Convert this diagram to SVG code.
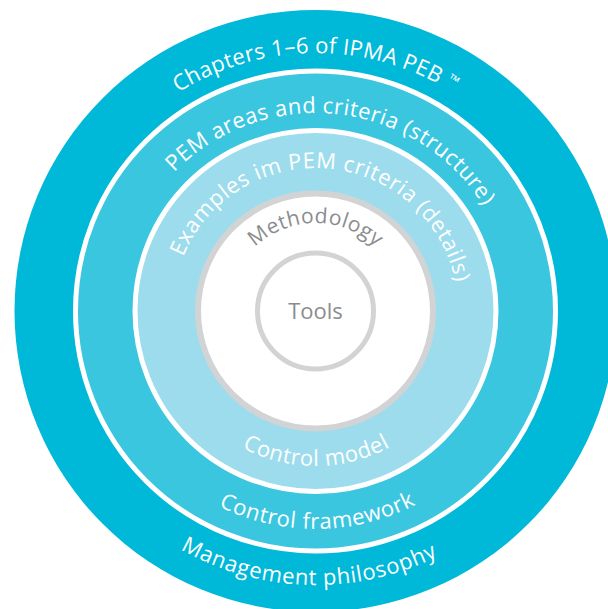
<svg xmlns="http://www.w3.org/2000/svg" xmlns:xlink="http://www.w3.org/1999/xlink" width="608" height="609" viewBox="0 0 608 609">
<style>
.lbl{font-family:"Open Sans","Noto Sans","Liberation Sans",sans-serif;font-size:22px;fill:#ffffff;text-anchor:middle}
.gry{font-family:"Open Sans","Noto Sans","Liberation Sans",sans-serif;fill:#8b8c8e;text-anchor:middle}
</style>
<defs>
<path id="pTop258" d="M57.5,311 A258,258 0 0 1 573.5,311"/>
<path id="pTop198" d="M117.5,311 A198,198 0 0 1 513.5,311"/>
<path id="pTop143" d="M172.5,311 A143,143 0 0 1 458.5,311"/>
<path id="pTop88" d="M227.5,311 A88,88 0 0 1 403.5,311"/>
<path id="pBot155" d="M160.5,311 A155,155 0 0 0 470.5,311"/>
<path id="pBot218" d="M97.5,311 A218,218 0 0 0 533.5,311"/>
<path id="pBot274" d="M41.5,311 A274,274 0 0 0 589.5,311"/>
</defs>
<rect width="608" height="609" fill="#ffffff"/>
<g id="management-philosophy">
<circle cx="315.5" cy="311" r="301" fill="#00b8d8"/>
<text class="lbl" letter-spacing="0.3"><textPath xlink:href="#pTop258" href="#pTop258" startOffset="50%">Chapters 1–6 of IPMA PEB <tspan font-size="14" dy="-6">™</tspan></textPath></text>
<text class="lbl" letter-spacing="0.65"><textPath xlink:href="#pBot274" href="#pBot274" startOffset="49.2%">Management philosophy</textPath></text>
</g>
<g id="control-framework">
<circle cx="315.5" cy="311" r="240" fill="#3bc6e0" stroke="#ffffff" stroke-width="5"/>
<text class="lbl" letter-spacing="0.45"><textPath xlink:href="#pTop198" href="#pTop198" startOffset="53.5%">PEM areas and criteria (structure)</textPath></text>
<text class="lbl" letter-spacing="0.65"><textPath xlink:href="#pBot218" href="#pBot218" startOffset="50.3%">Control framework</textPath></text>
</g>
<g id="control-model">
<circle cx="315.5" cy="311" r="180.5" fill="#9cdcec" stroke="#ffffff" stroke-width="5"/>
<text class="lbl" letter-spacing="0.6"><textPath xlink:href="#pTop143" href="#pTop143" startOffset="53%">Examples im PEM criteria (details)</textPath></text>
<text class="lbl" letter-spacing="0.6"><textPath xlink:href="#pBot155" href="#pBot155" startOffset="50.2%">Control model</textPath></text>
</g>
<g id="methodology">
<circle cx="315.5" cy="311" r="117.5" fill="#ffffff" stroke="#d2d3d5" stroke-width="6"/>
<text class="gry" font-size="21" letter-spacing="0.4"><textPath xlink:href="#pTop88" href="#pTop88" startOffset="50%">Methodology</textPath></text>
</g>
<g id="tools">
<circle cx="315.5" cy="311" r="58" fill="none" stroke="#d2d3d5" stroke-width="5"/>
<text class="gry" x="315.5" y="319" font-size="22">Tools</text>
</g>
</svg>
